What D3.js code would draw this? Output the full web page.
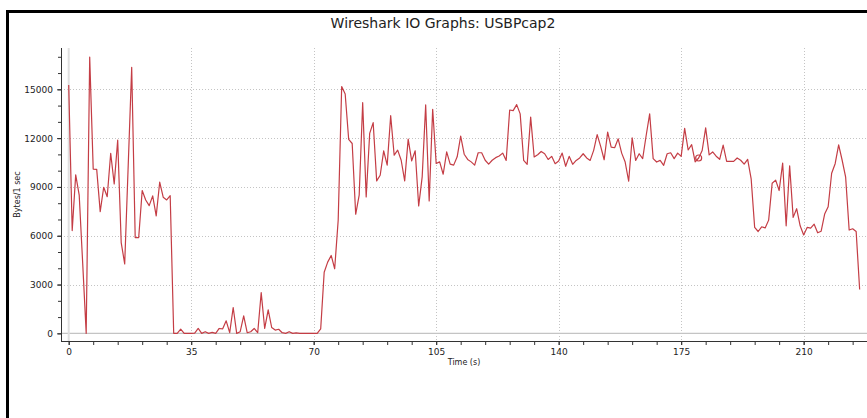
<!DOCTYPE html>
<html>
<head>
<meta charset="utf-8">
<script src="https://cdn.jsdelivr.net/npm/d3@7"></script>
<style>
  html, body { margin: 0; padding: 0; background: #fff; }
  svg { display: block; }
  text { font-family: "DejaVu Sans", Verdana, sans-serif; fill: #222; }
</style>
</head>
<body>
<div id="chart"></div>
<script>
// bytes per 1 sec interval, one value per second starting at t = 0
let bytesPerSec = [
  15260, 6320, 9740, 8500, 4300, 0, 16980, 10100, 10080, 7480,
  8980, 8400, 11070, 9180, 11880, 5580, 4270, 10300, 16350, 5890,
  5890, 8780, 8200, 7850, 8450, 7220, 9290, 8370, 8200, 8460,
  0, 0, 260, 0, 0, 0, 20, 300, 0, 100,
  0, 60, 0, 300, 280, 770, 40, 1590, 0, 100,
  1070, 40, 100, 300, 40, 2500, 300, 1440, 360, 200,
  250, 40, 0, 100, 0, 30, 0, 0, 0, 0,
  0, 0, 270, 3760, 4380, 4790, 3970, 6950, 15170, 14710,
  11920, 11670, 7320, 8490, 14180, 8380, 12290, 12950, 9370, 9720,
  11220, 10340, 13380, 10950, 11260, 10640, 9370, 11940, 10600, 11220,
  7830, 9620, 14040, 8140, 13770, 10440, 10540, 9780, 11160, 10400,
  10340, 10850, 12120, 11010, 10690, 10540, 10340, 11100, 11100, 10640,
  10400, 10640, 10800, 10900, 11080, 10630, 13730, 13690, 14060, 13490,
  10630, 10390, 13290, 10840, 10980, 11180, 11040, 10690, 10880, 10430,
  10590, 11080, 10270, 10880, 10390, 10630, 10780, 11040, 10780, 10630,
  11250, 12220, 11490, 10670, 12370, 11450, 11410, 11960, 11080, 10530,
  9350, 12020, 10630, 11040, 10740, 12160, 13490, 10740, 10530, 10630,
  10330, 11040, 11100, 10740, 11080, 10880, 12600, 11270, 11600, 10540,
  10780, 11240, 12630, 10970, 11150, 10890, 10700, 11570, 10570, 10570,
  10570, 10780, 10640, 10400, 10700, 9500, 6510, 6260, 6550, 6480,
  6960, 9230, 9420, 8780, 10470, 6610, 10300, 7130, 7660, 6610,
  6050, 6510, 6470, 6710, 6180, 6280, 7330, 7780, 9840, 10430,
  11590, 10640, 9600, 6350, 6430, 6260, 2700
];

let xTicks = [0, 35, 70, 105, 140, 175, 210];
let xMinorTicks = d3.range(0, 225, 7);
let yTicks = [0, 3000, 6000, 9000, 12000, 15000];
let yMinorTicks = d3.range(0, 17001, 1000);

// the point that is marked with a small circle
let markedSecond = 180;

let title = "Wireshark IO Graphs: USBPcap2";
let xLabel = "Time (s)";
let yLabel = "Bytes/1 sec";

const width = 867, height = 418;
const lineColor = "#c43d45";

let svg = d3.select("#chart").append("svg")
  .attr("width", width)
  .attr("height", height);

svg.append("rect").attr("width", width).attr("height", height).attr("fill", "#fff");

// window frame
svg.append("rect").attr("x", 6).attr("y", 10).attr("width", width - 6).attr("height", 3).attr("fill", "#000");
svg.append("rect").attr("x", 6).attr("y", 10).attr("width", 3).attr("height", height - 10).attr("fill", "#000");

let x = d3.scaleLinear().domain([-2.2, 228.1]).range([61, 867]);
let y = d3.scaleLinear().domain([-470, 17540]).range([341, 48]);

let plotLeft = 61, plotRight = 867, plotTop = 48, plotBottom = 341;

// grid
let grid = svg.append("g");
grid.selectAll(".hgrid")
  .data(yTicks.filter(d => d > 0))
  .enter()
  .append("line")
  .attr("x1", plotLeft).attr("x2", plotRight)
  .attr("y1", d => Math.round(y(d)) + 0.5).attr("y2", d => Math.round(y(d)) + 0.5)
  .attr("stroke", "#c4c4c4")
  .attr("stroke-dasharray", "1,2");
grid.selectAll(".vgrid")
  .data(xTicks.filter(d => d > 0))
  .enter()
  .append("line")
  .attr("x1", d => Math.round(x(d)) + 0.5).attr("x2", d => Math.round(x(d)) + 0.5)
  .attr("y1", plotTop).attr("y2", plotBottom)
  .attr("stroke", "#c4c4c4")
  .attr("stroke-dasharray", "1,2");

// zero lines
grid.append("line")
  .attr("x1", plotLeft).attr("x2", plotRight)
  .attr("y1", y(0)).attr("y2", y(0))
  .attr("stroke", "#c4c4c4").attr("stroke-width", 1.2);
grid.append("line")
  .attr("x1", x(0)).attr("x2", x(0))
  .attr("y1", plotTop).attr("y2", plotBottom)
  .attr("stroke", "#e0e0e0").attr("stroke-width", 2);

// axes
let yAxis = svg.append("g")
  .attr("transform", `translate(${plotLeft},0)`)
  .call(d3.axisLeft(y).tickValues(yTicks).tickSize(4).tickPadding(4).tickFormat(d3.format("d")));
let yMinor = svg.append("g")
  .attr("transform", `translate(${plotLeft},0)`)
  .call(d3.axisLeft(y).tickValues(yMinorTicks).tickSize(3).tickFormat(""));
let xAxis = svg.append("g")
  .attr("transform", `translate(0,${plotBottom})`)
  .call(d3.axisBottom(x).tickValues(xTicks).tickSize(4).tickPadding(4).tickFormat(d3.format("d")));
let xMinor = svg.append("g")
  .attr("transform", `translate(0,${plotBottom})`)
  .call(d3.axisBottom(x).tickValues(xMinorTicks).tickSize(4).tickFormat(""));

for(let ax of [yAxis, yMinor, xAxis, xMinor]){
  ax.select(".domain").remove();
  ax.selectAll(".tick line").attr("stroke", "#333");
  ax.selectAll("text")
    .style("font-family", "'DejaVu Sans', Verdana, sans-serif")
    .style("font-size", "9px")
    .attr("fill", "#222");
}

svg.append("line")
  .attr("x1", plotLeft + 0.5).attr("x2", plotLeft + 0.5)
  .attr("y1", plotTop).attr("y2", plotBottom + 0.5)
  .attr("stroke", "#333");
svg.append("line")
  .attr("x1", plotLeft).attr("x2", plotRight)
  .attr("y1", plotBottom + 0.5).attr("y2", plotBottom + 0.5)
  .attr("stroke", "#333");

// data line
let line = d3.line()
  .x((d, i) => x(i))
  .y(d => y(d));

svg.append("path")
  .datum(bytesPerSec)
  .attr("d", line)
  .attr("fill", "none")
  .attr("stroke", lineColor)
  .attr("stroke-width", 1.2)
  .attr("stroke-linejoin", "round");

svg.append("circle")
  .attr("cx", x(markedSecond))
  .attr("cy", y(bytesPerSec[markedSecond]))
  .attr("r", 3)
  .attr("fill", "none")
  .attr("stroke", lineColor)
  .attr("stroke-width", 1.2);

// labels
svg.append("text")
  .attr("x", 443).attr("y", 28)
  .attr("text-anchor", "middle")
  .style("font-size", "14px")
  .text(title);

svg.append("text")
  .attr("x", (plotLeft + plotRight) / 2).attr("y", 365)
  .attr("text-anchor", "middle")
  .style("font-size", "8px")
  .text(xLabel);

svg.append("text")
  .attr("transform", `translate(20,${(plotTop + plotBottom) / 2}) rotate(-90)`)
  .attr("text-anchor", "middle")
  .style("font-size", "8px")
  .text(yLabel);
</script>
</body>
</html>
